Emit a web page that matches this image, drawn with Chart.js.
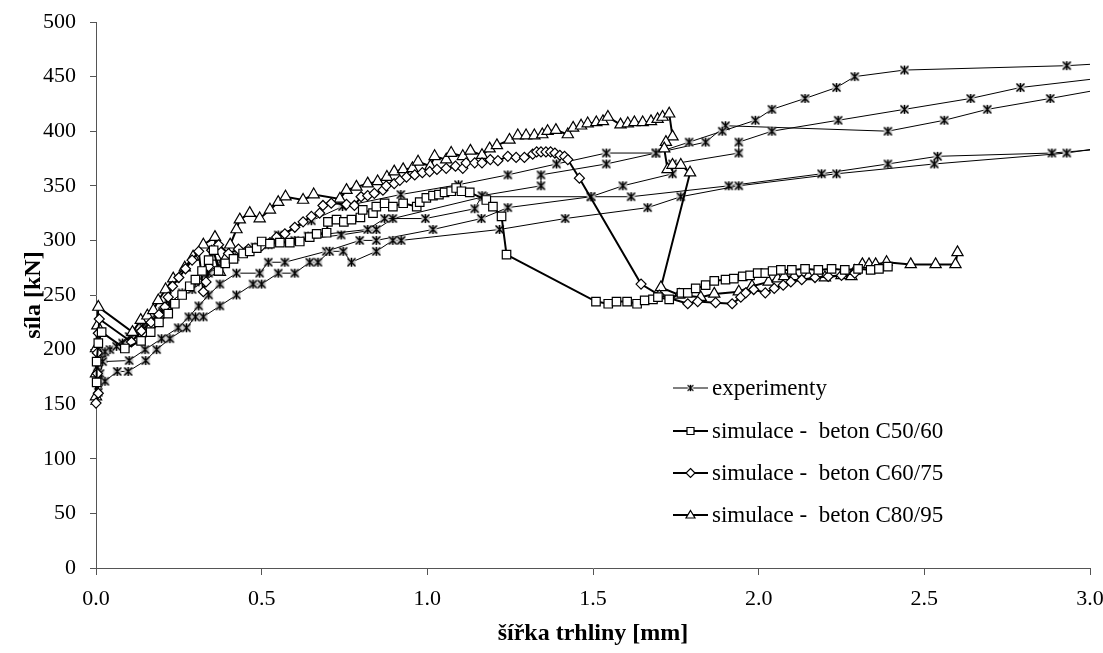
<!DOCTYPE html>
<html>
<head>
<meta charset="utf-8">
<script src="https://cdn.jsdelivr.net/npm/chart.js@4.4.1/dist/chart.umd.min.js"></script>
<style>
  html, body { margin: 0; padding: 0; background: #fff; }
  #wrap { width: 1103px; height: 653px; }
</style>
</head>
<body>
<div id="wrap"><canvas id="myChart" width="1103" height="653"></canvas></div>
<script>
// experiment curves [crack width mm, force kN]
const expA = [[0.007,161],[0.027,171],[0.064,180],[0.097,180],[0.15,190],[0.183,200],[0.223,210],[0.273,220],[0.30,230],[0.324,230],[0.374,240],[0.424,250],[0.474,260],[0.50,260],[0.55,270],[0.60,270],[0.645,280],[0.67,280],[0.705,290],[0.746,290],[0.771,280],[0.846,290],[0.896,300],[0.921,300],[1.218,310],[1.416,320],[1.665,330],[1.765,340],[1.94,350],[2.235,361],[2.53,370],[2.93,380],[3.1,388]];
const expB = [[0.012,178],[0.02,189],[0.10,190],[0.148,200],[0.198,210],[0.248,220],[0.28,230],[0.31,240],[0.34,250],[0.374,260],[0.424,270],[0.494,270],[0.52,280],[0.57,280],[0.695,290],[0.796,300],[0.846,300],[1.017,310],[1.163,320],[1.243,330],[1.494,340],[1.59,350],[1.74,361],[1.74,370],[1.94,380],[1.94,390],[2.04,400],[2.24,410],[2.44,420],[2.64,430],[2.79,440],[3.1,451]];
const expC = [[0.01,172],[0.027,198],[0.062,203],[0.12,215],[0.2,235],[0.29,255],[0.374,273],[0.45,290],[0.55,305],[0.65,318],[0.744,331],[0.92,342],[1.094,351],[1.243,360],[1.39,370],[1.54,380],[1.69,380],[1.79,390],[1.89,400],[1.99,410],[2.04,420],[2.14,430],[2.235,440],[2.29,450],[2.44,456],[2.93,460],[3.1,463]];
const expD = [[0.004,184],[0.042,200],[0.1,212],[0.18,232],[0.26,252],[0.34,270],[0.42,285],[0.52,296],[0.64,304],[0.82,310],[0.871,320],[0.994,320],[1.143,329],[1.165,341],[1.343,350],[1.343,360],[1.54,370],[1.69,380],[1.84,390],[1.90,405],[2.39,400],[2.56,410],[2.69,420],[2.88,430],[3.1,442]];
const expE = [[0.002,175],[0.022,192],[0.08,206],[0.14,221],[0.22,242],[0.3,262],[0.38,280],[0.48,294],[0.6,300],[0.74,305],[0.846,310],[0.896,320],[1.17,340],[1.494,340],[1.615,340],[1.91,350],[2.19,361],[2.39,370],[2.54,377],[2.885,380],[3.1,385]];

// simulations
const simC50 = [[0.002,170],[0.002,189],[0.007,206],[0.017,216],[0.087,201],[0.136,208],[0.165,216],[0.19,225],[0.218,233],[0.238,242],[0.26,250],[0.283,258],[0.30,264],[0.32,272],[0.34,282],[0.355,291],[0.37,272],[0.39,279],[0.415,283],[0.444,288],[0.464,290],[0.485,293],[0.50,299],[0.525,297],[0.555,298],[0.585,298],[0.615,299],[0.645,303],[0.666,306],[0.696,307],[0.70,317],[0.726,319],[0.748,317],[0.771,319],[0.798,321],[0.805,328],[0.836,325],[0.846,331],[0.871,334],[0.896,331],[0.927,334],[0.968,331],[0.977,335],[0.997,339],[1.017,341],[1.035,342],[1.052,344],[1.072,345],[1.087,348],[1.103,345],[1.128,344],[1.178,337],[1.198,331],[1.224,322],[1.239,287],[1.509,244],[1.546,242],[1.571,244],[1.603,244],[1.633,242],[1.656,245],[1.681,246],[1.696,248],[1.73,246],[1.767,252],[1.786,252],[1.81,256],[1.84,259],[1.866,263],[1.90,264],[1.925,265],[1.952,267],[1.974,268],[1.997,270],[2.02,270],[2.042,272],[2.067,273],[2.10,273],[2.14,274],[2.18,273],[2.22,274],[2.26,273],[2.30,274],[2.338,273],[2.363,274],[2.39,276]];
const simC60 = [[0,151],[0.007,160],[0.004,178],[0.004,197],[0.007,215],[0.01,228],[0.107,207],[0.137,217],[0.166,225],[0.19,232],[0.208,239],[0.218,248],[0.231,258],[0.25,266],[0.27,274],[0.29,282],[0.31,290],[0.324,253],[0.332,262],[0.34,276],[0.349,291],[0.37,296],[0.40,288],[0.43,292],[0.46,292],[0.50,295],[0.525,298],[0.545,303],[0.57,306],[0.60,312],[0.625,317],[0.65,322],[0.675,325],[0.685,332],[0.71,334],[0.756,333],[0.78,332],[0.80,340],[0.82,341],[0.84,343],[0.866,346],[0.876,350],[0.90,352],[0.917,355],[0.937,358],[0.962,360],[0.985,362],[1.007,363],[1.029,365],[1.057,366],[1.085,368],[1.107,366],[1.117,371],[1.143,371],[1.165,371],[1.19,374],[1.213,373],[1.243,377],[1.268,376],[1.293,376],[1.318,379],[1.33,381],[1.343,381],[1.358,381],[1.372,381],[1.385,380],[1.40,378],[1.414,377],[1.424,374],[1.459,357],[1.645,260],[1.70,250],[1.786,242],[1.816,244],[1.87,243],[1.92,242],[1.946,248],[1.961,252],[1.985,255],[2.02,252],[2.047,256],[2.074,259],[2.097,262],[2.13,264],[2.17,266],[2.21,267],[2.25,268],[2.29,270]];
const simC80 = [[0,157],[0,178],[0,201],[0.004,222],[0.007,239],[0.11,216],[0.135,227],[0.155,231],[0.173,236],[0.188,245],[0.21,255],[0.233,265],[0.268,275],[0.293,285],[0.324,296],[0.359,303],[0.362,285],[0.374,271],[0.39,283],[0.405,296],[0.424,310],[0.434,319],[0.464,325],[0.494,320],[0.525,328],[0.55,335],[0.572,340],[0.625,337],[0.657,342],[0.736,338],[0.756,346],[0.786,349],[0.82,352],[0.85,354],[0.878,358],[0.90,363],[0.927,365],[0.955,366],[0.972,372],[1.009,368],[1.022,377],[1.057,374],[1.072,380],[1.107,377],[1.13,382],[1.165,378],[1.188,384],[1.21,387],[1.248,392],[1.273,396],[1.298,396],[1.323,396],[1.347,397],[1.363,400],[1.388,401],[1.424,397],[1.44,403],[1.464,405],[1.484,407],[1.51,408],[1.53,409],[1.545,413],[1.583,406],[1.605,407],[1.625,408],[1.65,408],[1.675,409],[1.695,411],[1.71,413],[1.73,416],[1.74,395],[1.72,390],[1.715,384],[1.725,365],[1.74,369],[1.765,369],[1.793,362],[1.705,257],[1.76,250],[1.825,248],[1.866,251],[1.94,253],[1.98,258],[2.03,262],[2.057,265],[2.077,267],[2.107,267],[2.15,267],[2.2,266],[2.25,268],[2.28,267],[2.29,272],[2.313,278],[2.333,278],[2.353,278],[2.386,280],[2.459,278],[2.534,278],[2.594,278],[2.60,289]];

const legendLabels = ["experimenty", "simulace -  beton C50/60", "simulace -  beton C60/75", "simulace -  beton C80/95"];

const FONT = "'Liberation Serif', 'Times New Roman', serif";

function toXY(arr) {
  return arr.map(p => ({ x: p[0], y: p[1] }));
}

// asterisk marker like the excel one
function makeStar(s) {
  const c = document.createElement("canvas");
  c.width = s; c.height = s;
  const g = c.getContext("2d");
  const m = 1, e = s - 1;
  g.fillStyle = "#c4c4c4";
  g.fillRect(m + 0.5, m + 0.5, s - 2 * m - 1, s - 2 * m - 1);
  g.strokeStyle = "#000";
  g.lineWidth = 1.4;
  g.beginPath();
  g.moveTo(s / 2, m); g.lineTo(s / 2, e);
  g.moveTo(m + 0.5, m + 0.5); g.lineTo(e - 0.5, e - 0.5);
  g.moveTo(e - 0.5, m + 0.5); g.lineTo(m + 0.5, e - 0.5);
  g.stroke();
  return c;
}
const starImg = makeStar(11);

function expSet(arr) {
  return {
    data: toXY(arr),
    showLine: true,
    borderColor: "#000",
    borderWidth: 1,
    pointStyle: starImg,
    pointRadius: 5,
    pointHoverRadius: 5,
    order: 2,
    clip: { left: 10, top: 10, right: 0, bottom: 10 },
  };
}

function simSet(arr, style, r) {
  return {
    data: toXY(arr),
    showLine: true,
    borderColor: "#000",
    borderWidth: 2,
    pointStyle: style,
    pointRadius: r,
    pointHoverRadius: r,
    pointBackgroundColor: "#fff",
    pointBorderColor: "#000",
    pointBorderWidth: 1.2,
    order: 1,
    clip: { left: 10, top: 10, right: 0, bottom: 10 },
  };
}

// legend drawn by hand in the plot corner
const legendPlugin = {
  id: "cornerLegend",
  afterDraw(chart) {
    const ctx = chart.ctx;
    const rows = [388, 431, 473, 515];
    const x0 = 673, x1 = 708, cx = 690.5;
    ctx.save();
    rows.forEach((y, i) => {
      ctx.strokeStyle = "#000";
      ctx.lineWidth = i === 0 ? 1 : 2;
      ctx.beginPath();
      ctx.moveTo(x0, y); ctx.lineTo(x1, y);
      ctx.stroke();
      ctx.fillStyle = "#fff";
      ctx.lineWidth = 1.2;
      ctx.beginPath();
      if (i === 0) {
        ctx.drawImage(starImg, cx - 4, y - 4, 8, 8);
      } else if (i === 1) {
        ctx.rect(cx - 3.5, y - 3.5, 7, 7);
      } else if (i === 2) {
        ctx.moveTo(cx, y - 4.5); ctx.lineTo(cx + 4.5, y); ctx.lineTo(cx, y + 4.5); ctx.lineTo(cx - 4.5, y); ctx.closePath();
      } else {
        ctx.moveTo(cx, y - 4.5); ctx.lineTo(cx + 4.5, y + 3); ctx.lineTo(cx - 4.5, y + 3); ctx.closePath();
      }
      if (i > 0) { ctx.fill(); ctx.stroke(); }
      ctx.fillStyle = "#000";
      ctx.font = "23px " + FONT;
      ctx.textAlign = "left";
      ctx.textBaseline = "middle";
      ctx.fillText(legendLabels[i], 712, y + 1);
    });
    ctx.restore();
  },
};

const ctx = document.getElementById("myChart").getContext("2d");
new Chart(ctx, {
  type: "scatter",
  data: {
    datasets: [
      expSet(expA), expSet(expB), expSet(expC), expSet(expD), expSet(expE),
      simSet(simC50, "rect", 6),
      simSet(simC60, "rectRot", 5),
      simSet(simC80, "triangle", 6.5),
    ],
  },
  options: {
    responsive: false,
    animation: false,
    layout: { padding: { left: 0, right: 0, top: 22, bottom: 0 } },
    plugins: {
      legend: { display: false },
      tooltip: { enabled: false },
    },
    scales: {
      x: {
        type: "linear",
        min: 0,
        max: 3,
        afterFit(scale) {
          scale.height = 85;
          scale.paddingLeft = 0;
          scale.paddingRight = 13;
        },
        ticks: {
          stepSize: 0.5,
          color: "#000",
          padding: 11,
          maxRotation: 0,
          font: { family: FONT, size: 22 },
          callback: (v) => v.toFixed(1),
        },
        grid: { drawOnChartArea: false, drawTicks: true, tickLength: 7, color: "#555" },
        border: { display: true, color: "#555", width: 1 },
        title: {
          display: true,
          text: "šířka trhliny [mm]",
          color: "#000",
          font: { family: FONT, size: 24, weight: "bold" },
          padding: { top: 0, bottom: 5 },
        },
      },
      y: {
        min: 0,
        max: 500,
        afterFit(scale) {
          scale.width = 96;
          scale.paddingTop = 0;
          scale.paddingBottom = 0;
        },
        ticks: {
          stepSize: 50,
          color: "#000",
          padding: 14,
          font: { family: FONT, size: 22 },
        },
        grid: { drawOnChartArea: false, drawTicks: true, tickLength: 6, color: "#555" },
        border: { display: true, color: "#555", width: 1 },
        title: {
          display: true,
          text: "síla [kN]",
          color: "#000",
          font: { family: FONT, size: 24, weight: "bold" },
          padding: { top: 19, bottom: 0 },
        },
      },
    },
  },
  plugins: [legendPlugin],
});
</script>
</body>
</html>
